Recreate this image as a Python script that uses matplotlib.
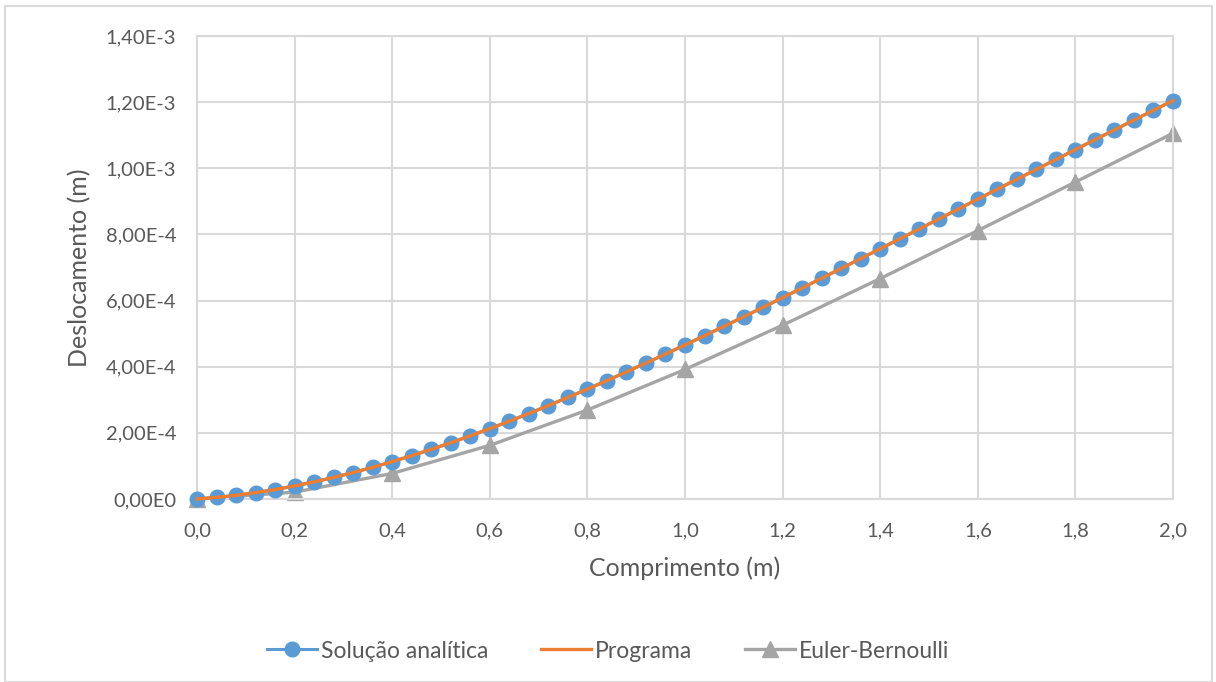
import numpy as np
import matplotlib
matplotlib.use('Agg')
import matplotlib.pyplot as plt
from matplotlib.patches import Rectangle
from matplotlib.ticker import FuncFormatter, MultipleLocator

# comprimento (m) - pontos da solucao analitica a cada 0,04 m
x_analitica = [0.00, 0.04, 0.08, 0.12, 0.16, 0.20, 0.24, 0.28, 0.32, 0.36,
               0.40, 0.44, 0.48, 0.52, 0.56, 0.60, 0.64, 0.68, 0.72, 0.76,
               0.80, 0.84, 0.88, 0.92, 0.96, 1.00, 1.04, 1.08, 1.12, 1.16,
               1.20, 1.24, 1.28, 1.32, 1.36, 1.40, 1.44, 1.48, 1.52, 1.56,
               1.60, 1.64, 1.68, 1.72, 1.76, 1.80, 1.84, 1.88, 1.92, 1.96, 2.00]
# deslocamento em 1e-3 m
y_analitica = [0.0000, 0.0048, 0.0112, 0.0192, 0.0286, 0.0395, 0.0517, 0.0652,
               0.0800, 0.0959, 0.1129, 0.1310, 0.1501, 0.1701, 0.1910, 0.2127,
               0.2353, 0.2585, 0.2825, 0.3071, 0.3323, 0.3581, 0.3844, 0.4111,
               0.4383, 0.4659, 0.4939, 0.5222, 0.5508, 0.5796, 0.6087, 0.6380,
               0.6674, 0.6971, 0.7268, 0.7566, 0.7866, 0.8165, 0.8466, 0.8766,
               0.9066, 0.9367, 0.9667, 0.9967, 1.0266, 1.0565, 1.0863, 1.1161,
               1.1458, 1.1754, 1.2049]
# programa coincide com a solucao analitica
x_programa = x_analitica
y_programa = y_analitica

x_euler = [0.0, 0.2, 0.4, 0.6, 0.8, 1.0, 1.2, 1.4, 1.6, 1.8, 2.0]
y_euler = [0.0000, 0.0207, 0.0773, 0.1622, 0.2690, 0.3917, 0.5255, 0.6665,
           0.8116, 0.9585, 1.1059]

plt.rcParams['font.family'] = ['Lato', 'DejaVu Sans']
txt = '#595959'
grid = '#D9D9D9'

fig = plt.figure(figsize=(12.16, 6.82), dpi=100)
ax = fig.add_axes([197 / 1216, 1 - 499 / 682, (1173 - 197) / 1216, (499 - 36) / 682])

ax.plot(x_analitica, np.array(y_analitica) * 1e-3, color='#5B9BD5', lw=2.2,
        marker='o', ms=10.5, label='Solução analítica', clip_on=False, zorder=3)
ax.plot(x_programa, np.array(y_programa) * 1e-3, color='#ED7D31', lw=2.4,
        label='Programa', clip_on=False, zorder=4)
ax.plot(x_euler, np.array(y_euler) * 1e-3, color='#A5A5A5', lw=2.4,
        marker='^', ms=11, label='Euler-Bernoulli', clip_on=False, zorder=2)

ax.set_xlim(0, 2.0)
ax.set_ylim(0, 1.4e-3)
ax.xaxis.set_major_locator(MultipleLocator(0.2))
ax.yaxis.set_major_locator(MultipleLocator(2e-4))


def fmt_y(v, pos):
    if abs(v) < 1e-12:
        return '0,00E0'
    e = int(np.floor(np.log10(abs(v)) + 1e-9))
    m = v / 10 ** e
    return f'{m:.2f}'.replace('.', ',') + f'E{e}'


ax.yaxis.set_major_formatter(FuncFormatter(fmt_y))
ax.xaxis.set_major_formatter(FuncFormatter(lambda v, p: f'{v:.1f}'.replace('.', ',')))

ax.grid(True, color=grid, lw=1.5)
ax.set_axisbelow(True)
for s in ax.spines.values():
    s.set_color(grid)
    s.set_linewidth(1.5)
ax.tick_params(length=0, labelsize=14.5, labelcolor=txt)
ax.tick_params(axis='y', pad=15)
ax.tick_params(axis='x', pad=17)

ax.set_xlabel('Comprimento (m)', fontsize=18, color=txt, labelpad=12)
ax.set_ylabel('Deslocamento (m)', fontsize=18, color=txt, labelpad=10)

leg = fig.legend(loc='center', bbox_to_anchor=(0.5, 1 - 651 / 682), ncol=3,
                 frameon=False, fontsize=16.5, handlelength=2.2, columnspacing=2.3,
                 handletextpad=0.15)
for t in leg.get_texts():
    t.set_color(txt)

fig.patches.append(Rectangle((5 / 1216, 0), 1207 / 1216, 1 - 6 / 682,
                             transform=fig.transFigure, fill=False,
                             edgecolor=grid, lw=1.5))

fig.savefig('out.png', dpi=100)
